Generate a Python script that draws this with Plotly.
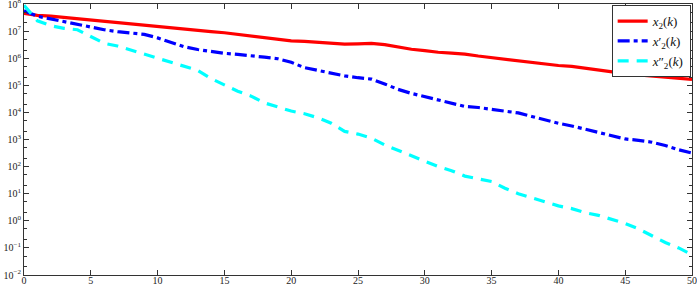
import plotly.graph_objects as go

k = list(range(51))
x2_log = [7.65, 7.58, 7.55, 7.50, 7.45, 7.40, 7.35, 7.30, 7.27, 7.22, 7.18, 7.13, 7.08, 7.03, 6.98,
          6.94, 6.88, 6.82, 6.75, 6.68, 6.64, 6.62, 6.58, 6.55, 6.52, 6.53, 6.55, 6.50, 6.40, 6.33,
          6.28, 6.22, 6.19, 6.15, 6.08, 6.02, 5.96, 5.90, 5.83, 5.77, 5.73, 5.70, 5.63, 5.55, 5.48,
          5.43, 5.38, 5.34, 5.30, 5.26, 5.22]
x2p_log = [7.75, 7.55, 7.45, 7.35, 7.25, 7.15, 7.05, 6.98, 6.92, 6.88, 6.75, 6.58, 6.42, 6.32, 6.25,
           6.18, 6.14, 6.10, 6.04, 5.98, 5.85, 5.65, 5.55, 5.45, 5.35, 5.28, 5.23, 5.05, 4.85, 4.70,
           4.58, 4.45, 4.32, 4.22, 4.18, 4.12, 4.05, 3.98, 3.85, 3.72, 3.60, 3.50, 3.38, 3.25, 3.12,
           3.02, 2.97, 2.90, 2.78, 2.62, 2.50]
x2pp_log = [7.95, 7.38, 7.20, 7.10, 7.05, 6.80, 6.55, 6.45, 6.30, 6.15, 6.00, 5.85, 5.70, 5.55, 5.25,
            5.00, 4.78, 4.60, 4.35, 4.20, 4.05, 3.95, 3.80, 3.60, 3.30, 3.20, 3.05, 2.80, 2.60, 2.40,
            2.20, 2.00, 1.85, 1.65, 1.55, 1.45, 1.20, 1.00, 0.85, 0.70, 0.55, 0.45, 0.30, 0.20, 0.05,
            -0.10, -0.30, -0.55, -0.80, -1.00, -1.25]
y_exponents = list(range(-2, 9))
x_ticks = list(range(0, 51, 5))

x2 = [10 ** v for v in x2_log]
x2p = [10 ** v for v in x2p_log]
x2pp = [10 ** v for v in x2pp_log]

fig = go.Figure()
fig.add_trace(go.Scatter(x=k, y=x2, mode="lines", name="<i>x</i><sub>2</sub>(<i>k</i>)",
                         line=dict(color="#ff0000", width=3.2)))
fig.add_trace(go.Scatter(x=k, y=x2p, mode="lines", name="<i>x</i>′<sub>2</sub>(<i>k</i>)",
                         line=dict(color="#0000ff", width=3.2, dash="12px,4px,4px,4px")))
fig.add_trace(go.Scatter(x=k, y=x2pp, mode="lines", name="<i>x</i>″<sub>2</sub>(<i>k</i>)",
                         line=dict(color="#00ffff", width=3.2, dash="11px,8px")))

font = dict(family="Liberation Serif, DejaVu Serif, serif", size=10, color="#222")
fig.update_layout(
    width=697, height=285,
    margin=dict(l=24, r=5, t=4, b=10, autoexpand=False),
    plot_bgcolor="white", paper_bgcolor="white",
    font=font,
    showlegend=True,
    legend=dict(x=0.998, y=0.996, xanchor="right", yanchor="top",
                bgcolor="white", bordercolor="#333", borderwidth=1,
                font=dict(family="Liberation Serif, DejaVu Serif, serif", size=13, color="#111"),
                itemwidth=30, tracegroupgap=0),
)
fig.update_xaxes(range=[0, 50], tickvals=x_ticks, ticktext=[str(v) for v in x_ticks],
                 showgrid=False, zeroline=False, automargin=False, ticklabeloverflow="allow",
                 ticklabelstandoff=-4,
                 showline=True, linecolor="#333", linewidth=1, mirror="ticks",
                 ticks="inside", ticklen=5, tickcolor="#333", tickfont=font)
fig.update_yaxes(type="log", range=[-2, 8],
                 tickvals=[10 ** e for e in y_exponents],
                 ticktext=["10<sup>%s</sup>" % (str(e).replace("-", "−")) for e in y_exponents],
                 showgrid=False, zeroline=False, automargin=False, ticklabeloverflow="allow",
                 showline=True, linecolor="#333", linewidth=1, mirror="ticks",
                 ticks="inside", ticklen=5, tickcolor="#333", tickfont=font,
                 minor=dict(ticks="inside", ticklen=3, tickcolor="#333", showgrid=False))
fig.write_html("out.html", config={"displayModeBar": False},
               post_script="document.body.style.margin='0';document.body.style.padding='0';")
